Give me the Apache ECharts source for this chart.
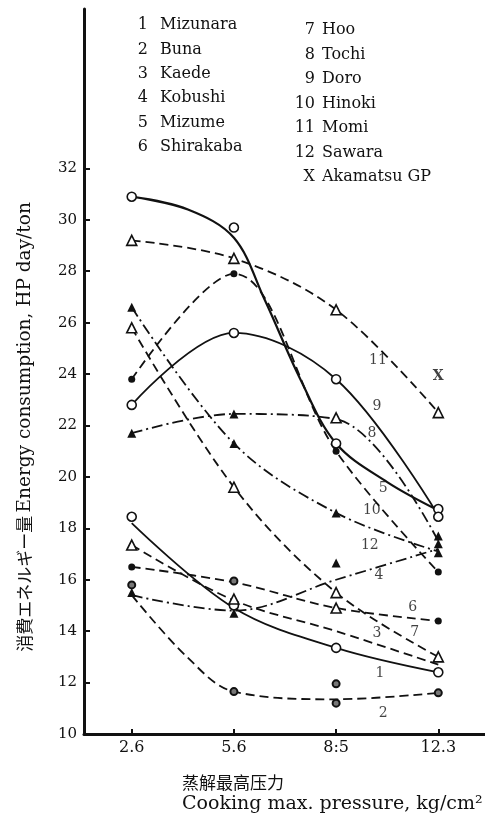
<!DOCTYPE html>
<html>
<head>
<meta charset="utf-8">
<script src="https://cdn.jsdelivr.net/npm/echarts@6/dist/echarts.min.js"></script>
<style>
html, body { margin: 0; padding: 0; background: #fff; }
#chart { width: 485px; height: 820px; }
</style>
</head>
<body>
<div id="chart"></div>
<script>
// x positions are the 4 pressures, drawn evenly spaced (index 0..3)
var pressures = ['2.6', '5.6', '8:5', '12.3'];
var yTicks = [10, 12, 14, 16, 18, 20, 22, 24, 26, 28, 30, 32];

// fitted curves, [pressure index, HP day/ton]
var mizunara = [[0, 18.2], [1, 14.9], [2, 13.35], [3, 12.4]];
var buna = [[0, 15.4], [0.54, 13.0], [1, 11.65], [2, 11.35], [3, 11.6]];
var kaede = [[0, 17.35], [1, 15.2], [2, 14.0], [3, 12.7]];
var kobushi = [[0, 15.4], [1, 14.8], [2, 16.0], [3, 17.2]];
var mizume = [[0, 23.8], [1, 27.9], [2, 21.0], [3, 16.3]];
var shirakaba = [[0, 16.5], [1, 15.9], [2, 14.9], [3, 14.4]];
var hoo = [[0, 25.8], [1, 19.6], [2, 15.5], [3, 13.0]];
var tochi = [[0, 21.7], [1, 22.45], [2, 22.25], [3, 17.5]];
var doro = [[0, 22.8], [1, 25.6], [2, 23.8], [3, 18.5]];
var hinoki = [[0, 26.6], [1, 21.3], [2, 18.6], [3, 17.1]];
var momi = [[0, 29.2], [1, 28.5], [2, 26.5], [3, 22.5]];
// steep solid curve at the top (no number next to it)
var topSolid = [[0, 30.9], [0.55, 30.4], [1, 29.3], [1.3, 26.9], [1.65, 23.8], [2, 21.3], [2.5, 19.8], [3, 18.7]];

// measured points
var openCircles = [[0, 30.9], [1, 29.7], [0, 22.8], [1, 25.6], [2, 23.8], [2, 21.3], [3, 18.75],
  [3, 18.45], [0, 18.45], [1, 15.0], [2, 13.35], [3, 12.4]];
var filledDots = [[1, 27.9], [0, 23.8], [2, 21.0], [3, 16.3], [0, 16.5], [3, 14.4]];
var ringDots = [[0, 15.8], [1, 15.95], [1, 11.65], [2, 11.95], [2, 11.2], [3, 11.6]];
var openTriangles = [[0, 29.2], [1, 28.5], [2, 26.5], [3, 22.5], [0, 25.8], [1, 19.6], [2, 22.3],
  [0, 17.35], [1, 15.25], [2, 15.5], [2, 14.9], [3, 13.0]];
var filledTriangles = [[0, 26.6], [1, 22.45], [0, 21.7], [1, 21.3], [2, 18.6], [2, 16.65],
  [3, 17.7], [3, 17.4], [3, 17.05], [0, 15.5], [1, 14.7]];
var akamatsu = [[3, 23.9]];

// curve numbers written on the plot
var curveNumbers = [[2.41, 24.54, '11'], [2.4, 22.75, '9'], [2.35, 21.7, '8'], [2.46, 19.56, '5'],
  [2.35, 18.71, '10'], [2.33, 17.35, '12'], [2.42, 16.18, '4'], [2.75, 14.94, '6'],
  [2.4, 13.93, '3'], [2.77, 13.96, '7'], [2.43, 12.37, '1'], [2.46, 10.82, '2']];

var legendLeft = [['1', 'Mizunara'], ['2', 'Buna'], ['3', 'Kaede'], ['4', 'Kobushi'], ['5', 'Mizume'], ['6', 'Shirakaba']];
var legendRight = [['7', 'Hoo'], ['8', 'Tochi'], ['9', 'Doro'], ['10', 'Hinoki'], ['11', 'Momi'], ['12', 'Sawara'], ['X', 'Akamatsu GP']];

var ink = '#111';
var serif = 'DejaVu Serif';
var DASH = [9, 5];
var DASHDOT = [11, 4, 2, 4];

function curve(name, data, dash, width) {
  return {
    name: name, type: 'line', data: data, smooth: 0.35, symbol: 'none', silent: true,
    lineStyle: { color: ink, width: width || 1.8, type: dash }
  };
}

function points(name, data, symbol, size, fill, border) {
  return {
    name: name, type: 'scatter', data: data, symbol: symbol, symbolSize: size, z: 5,
    itemStyle: { color: fill, borderColor: ink, borderWidth: border, opacity: 1 }
  };
}

var graphics = [];
legendLeft.forEach(function (row, i) {
  var y = 25 + i * 24.4;
  graphics.push({ type: 'text', x: 148, y: y, style: { text: row[0], font: '16px "' + serif + '"', fill: ink, align: 'right', verticalAlign: 'middle' } });
  graphics.push({ type: 'text', x: 160, y: y, style: { text: row[1], font: '16px "' + serif + '"', fill: ink, align: 'left', verticalAlign: 'middle' } });
});
legendRight.forEach(function (row, i) {
  var y = 30 + i * 24.5;
  graphics.push({ type: 'text', x: 315, y: y, style: { text: row[0], font: '16px "' + serif + '"', fill: ink, align: 'right', verticalAlign: 'middle' } });
  graphics.push({ type: 'text', x: 322, y: y, style: { text: row[1], font: '16px "' + serif + '"', fill: ink, align: 'left', verticalAlign: 'middle' } });
});
graphics.push({
  type: 'text', x: 25, y: 427, rotation: Math.PI / 2,
  style: {
    text: '{jp|消費エネルギー量} {en|Energy consumption, HP day/ton}',
    align: 'center', verticalAlign: 'middle',
    rich: {
      jp: { fontFamily: 'Noto Sans CJK JP', fontSize: 17, fill: ink },
      en: { fontFamily: serif, fontSize: 18.5, fill: ink }
    }
  }
});
graphics.push({ type: 'text', x: 182, y: 783, style: { text: '蒸解最高压力', font: '17px "Noto Sans CJK SC"', fill: ink, align: 'left', verticalAlign: 'middle' } });
graphics.push({ type: 'text', x: 182, y: 804, style: { text: 'Cooking max. pressure, kg/cm²', font: '19px "' + serif + '"', fill: ink, align: 'left', verticalAlign: 'middle' } });

var chart = echarts.init(document.getElementById('chart'));
chart.setOption({
  animation: false,
  backgroundColor: '#fff',
  grid: { left: 84, right: 0, top: 9, bottom: 86 },
  xAxis: {
    type: 'value', min: -0.467, max: 3.457,
    axisLine: { onZero: false, lineStyle: { color: ink, width: 3 } },
    axisTick: { customValues: [0, 1, 2, 3], inside: true, length: 5, lineStyle: { color: ink, width: 2 } },
    axisLabel: {
      customValues: [0, 1, 2, 3], formatter: function (v) { return pressures[Math.round(v)]; },
      color: ink, fontFamily: serif, fontSize: 16, margin: 6
    },
    splitLine: { show: false }
  },
  yAxis: {
    type: 'value', min: 10, max: 38.2,
    axisLine: { show: true, onZero: false, lineStyle: { color: ink, width: 3 } },
    axisTick: { customValues: yTicks, inside: true, length: 6, lineStyle: { color: ink, width: 2 } },
    axisLabel: { customValues: yTicks, color: ink, fontFamily: serif, fontSize: 15, margin: 7 },
    splitLine: { show: false }
  },
  graphic: graphics,
  series: [
    curve('1 Mizunara', mizunara, 'solid'),
    curve('2 Buna', buna, DASH),
    curve('3 Kaede', kaede, DASH),
    curve('4 Kobushi', kobushi, DASHDOT),
    curve('5 Mizume', mizume, DASH),
    curve('6 Shirakaba', shirakaba, DASH),
    curve('7 Hoo', hoo, DASH),
    curve('8 Tochi', tochi, DASHDOT),
    curve('9 Doro', doro, 'solid'),
    curve('10 Hinoki', hinoki, DASHDOT),
    curve('11 Momi', momi, DASH),
    curve('top solid', topSolid, 'solid', 2.2),
    points('open circles', openCircles, 'circle', 9, '#fff', 1.6),
    points('filled dots', filledDots, 'circle', 7, ink, 0),
    points('ring dots', ringDots, 'circle', 7, '#777', 2),
    points('open triangles', openTriangles, 'triangle', 10, '#fff', 1.6),
    points('filled triangles', filledTriangles, 'triangle', 9, ink, 0),
    {
      name: 'X Akamatsu GP', type: 'scatter', data: akamatsu, symbolSize: 0, z: 6,
      label: { show: true, position: 'inside', formatter: 'X', color: ink, fontFamily: serif, fontSize: 14, fontWeight: 'bold' }
    },
    {
      name: 'numbers', type: 'scatter', symbolSize: 0, z: 6, silent: true,
      data: curveNumbers.map(function (d) { return { value: [d[0], d[1]], label: { formatter: d[2] } }; }),
      label: { show: true, position: 'inside', color: ink, fontFamily: serif, fontSize: 14 }
    }
  ]
});
</script>
</body>
</html>
